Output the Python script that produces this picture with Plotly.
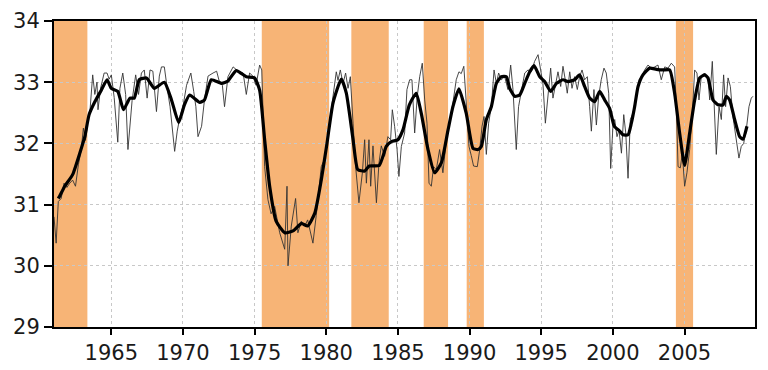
import plotly.graph_objects as go

# Monthly (thin) series: decimal year, value
thin_years = [1961.00, 1961.15, 1961.30, 1961.50, 1961.70, 1961.90, 1962.10, 1962.30, 1962.50, 1962.70,
              1962.90, 1963.05, 1963.20, 1963.35, 1963.50, 1963.70, 1963.85, 1964.00, 1964.07, 1964.25,
              1964.50, 1964.70, 1964.85, 1965.00, 1965.20, 1965.45, 1965.60, 1965.80, 1966.00, 1966.16,
              1966.45, 1966.70, 1966.90, 1967.10, 1967.30, 1967.50, 1967.70, 1967.90, 1968.15, 1968.35,
              1968.50, 1968.70, 1968.90, 1969.10, 1969.42, 1969.60, 1969.80, 1970.00, 1970.25, 1970.55,
              1970.75, 1970.90, 1971.05, 1971.30, 1971.50, 1971.75, 1972.10, 1972.35, 1972.55, 1972.75,
              1972.90, 1973.14, 1973.50, 1973.85, 1974.20, 1974.42, 1974.65, 1974.88, 1975.10, 1975.35,
              1975.50, 1975.70, 1975.93, 1976.15, 1976.40, 1976.75, 1977.10, 1977.26, 1977.33, 1977.56,
              1977.86, 1978.02, 1978.26, 1978.50, 1978.70, 1978.95, 1979.07, 1979.30, 1979.65, 1979.89,
              1980.24, 1980.47, 1980.70, 1980.82, 1980.98, 1981.17, 1981.35, 1981.52, 1981.68, 1981.87,
              1982.05, 1982.28, 1982.52, 1982.68, 1982.80, 1982.98, 1983.10, 1983.26, 1983.50, 1983.68,
              1983.84, 1984.07, 1984.30, 1984.49, 1984.61, 1984.77, 1984.94, 1985.07, 1985.24, 1985.47,
              1985.63, 1985.82, 1985.98, 1986.17, 1986.35, 1986.52, 1986.70, 1986.87, 1987.03, 1987.17,
              1987.33, 1987.49, 1987.68, 1987.91, 1988.14, 1988.38, 1988.61, 1988.84, 1989.07, 1989.26,
              1989.42, 1989.60, 1989.77, 1989.96, 1990.12, 1990.28, 1990.54, 1990.71, 1990.87, 1991.01,
              1991.17, 1991.33, 1991.52, 1991.71, 1991.87, 1992.03, 1992.22, 1992.45, 1992.68, 1992.87,
              1993.03, 1993.26, 1993.42, 1993.61, 1993.85, 1994.08, 1994.31, 1994.54, 1994.78, 1994.96,
              1995.12, 1995.29, 1995.47, 1995.66, 1995.82, 1995.99, 1996.17, 1996.36, 1996.52, 1996.68,
              1996.82, 1996.99, 1997.15, 1997.33, 1997.52, 1997.68, 1997.85, 1998.03, 1998.22, 1998.38,
              1998.50, 1998.68, 1998.85, 1999.01, 1999.19, 1999.38, 1999.54, 1999.71, 1999.85, 2000.01,
              2000.13, 2000.29, 2000.43, 2000.60, 2000.76, 2000.90, 2001.06, 2001.22, 2001.41, 2001.64,
              2001.83, 2001.99, 2002.22, 2002.45, 2002.69, 2002.92, 2003.15, 2003.38, 2003.62, 2003.85,
              2004.08, 2004.31, 2004.43, 2004.55, 2004.71, 2004.85, 2005.01, 2005.17, 2005.36, 2005.55,
              2005.71, 2005.87, 2006.01, 2006.17, 2006.41, 2006.64, 2006.76, 2006.94, 2007.10, 2007.22,
              2007.41, 2007.57, 2007.73, 2007.87, 2008.04, 2008.20, 2008.38, 2008.62, 2008.80, 2008.96,
              2009.13, 2009.31, 2009.50, 2009.66, 2009.78]
thin_values = [30.80, 30.37, 31.05, 31.10, 31.35, 31.28, 31.35, 31.40, 31.30, 31.65,
               31.90, 32.25, 32.05, 32.35, 32.50, 33.12, 32.80, 33.00, 32.55, 32.90,
               33.15, 33.15, 33.05, 33.12, 32.75, 32.02, 32.90, 33.15, 32.80, 31.90,
               32.70, 33.12, 32.80, 33.15, 33.20, 32.74, 33.20, 33.18, 32.52, 33.10,
               33.25, 33.25, 32.90, 32.60, 31.87, 32.20, 32.45, 32.60, 32.95, 33.15,
               32.85, 32.60, 32.11, 32.28, 32.71, 33.10, 33.15, 33.18, 33.00, 32.95,
               32.60, 33.09, 33.25, 33.18, 33.15, 32.80, 33.15, 33.10, 32.95, 33.28,
               33.20, 31.62, 31.08, 30.85, 30.97, 30.54, 30.27, 31.30, 30.00, 30.65,
               31.10, 30.54, 30.73, 30.65, 30.75, 30.48, 30.37, 30.82, 31.62, 31.75,
               32.33, 32.77, 33.17, 33.03, 33.20, 32.98, 33.15, 32.90, 33.09, 32.33,
               31.62, 31.03, 31.52, 32.06, 31.35, 32.06, 31.30, 31.96, 31.03, 31.68,
               31.96, 31.79, 32.11, 32.06, 32.55, 32.28, 31.90, 31.46, 31.95, 32.17,
               32.88, 33.04, 33.04, 32.17, 32.77, 33.09, 33.31, 32.71, 32.33, 31.35,
               31.30, 31.62, 31.57, 31.90, 31.52, 32.06, 32.33, 32.66, 33.04, 33.17,
               33.14, 33.26, 32.66, 31.95, 31.80, 31.63, 31.62, 31.90, 32.28, 32.44,
               31.82, 32.33, 32.60, 33.20, 32.98, 33.15, 33.04, 33.09, 32.88, 33.28,
               32.88, 31.90, 32.60, 32.82, 33.15, 33.20, 33.17, 33.34, 33.45, 33.20,
               32.98, 32.33, 32.77, 33.23, 32.74, 32.98, 33.17, 32.93, 33.26, 33.04,
               32.82, 33.17, 32.90, 33.09, 32.88, 33.09, 33.20, 33.04, 33.09, 32.60,
               32.20, 32.88, 32.30, 32.77, 33.04, 33.23, 33.15, 32.82, 31.59, 32.30,
               32.39, 32.11, 32.22, 31.84, 32.47, 32.17, 31.43, 32.39, 32.50, 32.77,
               33.04, 33.09, 33.20, 33.28, 33.23, 33.25, 33.28, 33.04, 33.25, 33.23,
               33.31, 33.25, 32.60, 31.62, 31.60, 31.84, 31.30, 31.52, 31.90, 32.50,
               33.20, 33.15, 32.71, 33.09, 33.15, 33.04, 32.71, 33.34, 32.60, 31.82,
               32.60, 32.39, 33.12, 32.60, 33.07, 32.93, 32.44, 32.06, 31.76, 31.95,
               32.00, 32.22, 32.60, 32.74, 32.77]

# Smoothed (thick) series
smooth_years = [1961.30, 1961.40, 1961.75, 1962.30, 1962.80, 1963.15, 1963.45, 1963.85, 1964.30, 1964.70,
                1965.00, 1965.45, 1965.85, 1966.30, 1966.60, 1966.95, 1967.45, 1968.00, 1968.70, 1969.20,
                1969.70, 1970.10, 1970.47, 1971.17, 1971.50, 1971.98, 1972.70, 1973.14, 1973.72, 1974.42,
                1975.00, 1975.35, 1975.70, 1976.05, 1976.50, 1977.10, 1977.68, 1978.26, 1978.70, 1979.20,
                1979.65, 1980.05, 1980.47, 1981.05, 1981.40, 1981.87, 1982.20, 1982.68, 1983.00, 1983.70,
                1984.19, 1984.54, 1985.00, 1985.35, 1985.80, 1986.28, 1986.63, 1987.10, 1987.56, 1988.03,
                1988.50, 1988.84, 1989.26, 1989.77, 1990.24, 1990.59, 1990.82, 1991.17, 1991.52, 1991.87,
                1992.22, 1992.57, 1992.80, 1993.15, 1993.50, 1993.85, 1994.20, 1994.50, 1994.90, 1995.24,
                1995.66, 1996.06, 1996.52, 1996.87, 1997.33, 1997.68, 1998.03, 1998.38, 1998.73, 1999.08,
                1999.43, 1999.78, 2000.10, 2000.48, 2000.71, 2001.06, 2001.29, 2001.52, 2001.76, 2002.10,
                2002.57, 2003.04, 2003.50, 2003.97, 2004.31, 2004.66, 2005.01, 2005.36, 2005.71, 2006.06,
                2006.41, 2006.64, 2006.99, 2007.34, 2007.69, 2007.92, 2008.15, 2008.50, 2008.85, 2009.08,
                2009.36]
smooth_values = [31.10, 31.14, 31.30, 31.49, 31.84, 32.11, 32.47, 32.68, 32.87, 33.04,
                 32.90, 32.85, 32.55, 32.74, 32.74, 33.04, 33.07, 32.90, 33.00, 32.71,
                 32.34, 32.63, 32.79, 32.67, 32.71, 33.04, 32.98, 33.02, 33.19, 33.09,
                 33.07, 32.87, 32.06, 31.30, 30.73, 30.54, 30.57, 30.69, 30.65, 30.86,
                 31.40, 32.00, 32.66, 33.05, 32.82, 32.06, 31.57, 31.55, 31.63, 31.64,
                 31.95, 32.03, 32.06, 32.22, 32.63, 32.82, 32.49, 31.90, 31.52, 31.68,
                 32.22, 32.60, 32.89, 32.49, 31.92, 31.90, 31.95, 32.39, 32.60, 32.98,
                 33.09, 33.09, 32.90, 32.77, 32.79, 32.98, 33.17, 33.27, 33.09, 33.01,
                 32.85, 32.98, 33.04, 33.01, 33.04, 33.12, 32.93, 32.74, 32.68, 32.85,
                 32.71, 32.57, 32.28, 32.20, 32.14, 32.14, 32.33, 32.60, 32.93, 33.12,
                 33.23, 33.21, 33.20, 33.20, 32.82, 32.17, 31.64, 32.17, 32.71, 33.07,
                 33.12, 33.07, 32.71, 32.63, 32.63, 32.77, 32.71, 32.39, 32.11, 32.07,
                 32.28]

# Shaded periods
shade_start = [1961.0, 1975.5, 1981.75, 1986.8, 1989.8, 2004.4]
shade_end = [1963.33, 1980.2, 1984.36, 1988.5, 1991.0, 2005.6]

x_ticks = [1965, 1970, 1975, 1980, 1985, 1990, 1995, 2000, 2005]
y_ticks = [29, 30, 31, 32, 33, 34]

fig = go.Figure()

fig.add_trace(go.Scatter(x=thin_years, y=thin_values, mode="lines",
                         line=dict(color="#333333", width=0.9), showlegend=False,
                         hoverinfo="skip"))
fig.add_trace(go.Scatter(x=smooth_years, y=smooth_values, mode="lines",
                         line=dict(color="black", width=3.2, shape="spline", smoothing=0.5),
                         showlegend=False))

for s, e in zip(shade_start, shade_end):
    fig.add_vrect(x0=s, x1=e, fillcolor="#F7B476", opacity=1, line_width=0, layer="below")

font_family = "DejaVu Sans, Liberation Sans, Arial, sans-serif"
fig.update_layout(
    width=768, height=370,
    margin=dict(l=54, r=13, t=21, b=43, autoexpand=False),
    paper_bgcolor="white", plot_bgcolor="white",
    font=dict(family=font_family, size=21, color="#1a1a1a"),
)
fig.update_xaxes(
    range=[1961.0, 2009.92], tickvals=x_ticks, ticktext=[str(v) for v in x_ticks],
    showline=True, linecolor="black", linewidth=2, mirror=True,
    ticks="outside", ticklen=6, tickwidth=1.5, tickcolor="black",
    showgrid=True, gridcolor="#c8c8c8", griddash="dot", gridwidth=1,
    zeroline=False, automargin=False, tickfont=dict(size=21),
)
fig.update_yaxes(
    range=[29, 34], tickvals=y_ticks, ticktext=[str(v) for v in y_ticks],
    showline=True, linecolor="black", linewidth=2, mirror=True,
    ticks="outside", ticklen=8, tickwidth=1.5, tickcolor="black",
    showgrid=True, gridcolor="#c8c8c8", griddash="dot", gridwidth=1,
    zeroline=False, automargin=False, tickfont=dict(size=21),
)

# remove the browser's default 8px body margin so the figure fills the window exactly
fig.write_html("out.html", config={"displayModeBar": False},
               post_script="document.body.style.margin='0';document.body.style.overflow='hidden';")
